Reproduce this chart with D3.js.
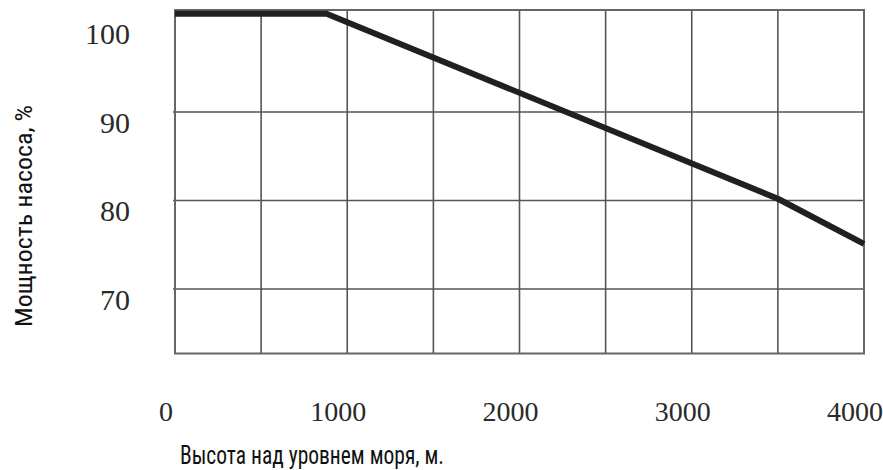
<!DOCTYPE html>
<html>
<head>
<meta charset="utf-8">
<script src="https://cdn.jsdelivr.net/npm/d3@7"></script>
<style>
body { margin: 0; background: #fff; }
</style>
</head>
<body>
<div id="chart"></div>
<script>
// altitude (m) vs pump power (%)
var altitude = [0, 880, 3500, 4000];
var power = [101.1, 101.1, 80.2, 75.1];
var xTicks = [0, 1000, 2000, 3000, 4000];
var yTicks = [70, 80, 90, 100];
var xGrid = [500, 1000, 1500, 2000, 2500, 3000, 3500];
var yGrid = [70, 80, 90];

var chart_width = 883;
var chart_height = 470;
var plot_left = 175, plot_right = 864, plot_top = 10, plot_bottom = 353.5;

var svg = d3.select('#chart')
	.append('svg')
	.attr('width', chart_width)
	.attr('height', chart_height);

var x = d3.scaleLinear().domain([0, 4000]).range([plot_left, plot_right]);
var y = d3.scaleLinear().domain([70, 90]).range([289, 112]);

// grid
svg.selectAll('line.vg')
	.data(xGrid)
	.enter()
	.append('line')
	.attr('x1', function(d){ return x(d); })
	.attr('x2', function(d){ return x(d); })
	.attr('y1', plot_top)
	.attr('y2', plot_bottom)
	.attr('stroke', '#555')
	.attr('stroke-width', 1.6);

svg.selectAll('line.hg')
	.data(yGrid)
	.enter()
	.append('line')
	.attr('x1', plot_left - 2)
	.attr('x2', plot_right)
	.attr('y1', function(d){ return y(d); })
	.attr('y2', function(d){ return y(d); })
	.attr('stroke', '#555')
	.attr('stroke-width', 1.6);

// frame
svg.append('rect')
	.attr('x', plot_left)
	.attr('y', plot_top)
	.attr('width', plot_right - plot_left)
	.attr('height', plot_bottom - plot_top)
	.attr('fill', 'none')
	.attr('stroke', '#666')
	.attr('stroke-width', 2);

// curve
var line = d3.line()
	.x(function(d, i){ return x(altitude[i]); })
	.y(function(d){ return y(d); });

svg.append('path')
	.datum(power)
	.attr('d', line)
	.attr('fill', 'none')
	.attr('stroke', '#231f20')
	.attr('stroke-width', 6)
	.attr('stroke-linejoin', 'round');

// tick labels
svg.selectAll('text.yt')
	.data(yTicks)
	.enter()
	.append('text')
	.text(function(d){ return d; })
	.attr('x', 130)
	.attr('y', function(d){ return y(d) + 10; })
	.attr('dy', '0.35em')
	.attr('text-anchor', 'end')
	.attr('font-family', 'Liberation Serif, serif')
	.attr('font-size', 30)
	.attr('fill', '#2a2a2a');

svg.selectAll('text.xt')
	.data(xTicks)
	.enter()
	.append('text')
	.text(function(d){ return d; })
	.attr('x', function(d){ return x(d) - 9; })
	.attr('y', 411)
	.attr('dy', '0.35em')
	.attr('text-anchor', 'middle')
	.attr('font-family', 'Liberation Serif, serif')
	.attr('font-size', 28)
	.attr('fill', '#2a2a2a');

// axis titles
svg.append('text')
	.text('Высота над уровнем моря, м.')
	.attr('x', 180)
	.attr('y', 455)
	.attr('dy', '0.35em')
	.attr('textLength', 264)
	.attr('lengthAdjust', 'spacingAndGlyphs')
	.attr('font-family', 'Liberation Sans Narrow, Roboto Condensed, sans-serif')
	.attr('font-size', 25)
	.attr('fill', '#111');

svg.append('text')
	.text('Мощность насоса, %')
	.attr('transform', 'translate(24,216) rotate(-90)')
	.attr('x', -111)
	.attr('dy', '0.35em')
	.attr('textLength', 222)
	.attr('lengthAdjust', 'spacingAndGlyphs')
	.attr('font-family', 'Liberation Sans Narrow, Roboto Condensed, sans-serif')
	.attr('font-size', 24)
	.attr('fill', '#111');
</script>
</body>
</html>
